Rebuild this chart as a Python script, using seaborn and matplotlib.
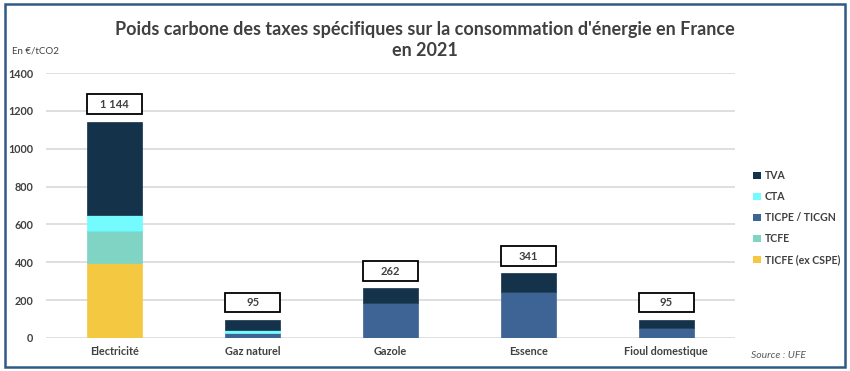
import numpy as np
import pandas as pd
import matplotlib.pyplot as plt
import seaborn as sns
from matplotlib.patches import Rectangle, Patch

categories = ["Electricité", "Gaz naturel", "Gazole", "Essence", "Fioul domestique"]
ticfe = [395, 0, 0, 0, 0]
tcfe = [170, 0, 0, 0, 0]
ticpe = [0, 28, 184, 245, 51]
cta = [84, 12, 0, 0, 0]
tva = [495, 55, 78, 96, 44]
totals = [1144, 95, 262, 341, 95]
total_labels = ["1 144", "95", "262", "341", "95"]

series = ["TICFE (ex CSPE)", "TCFE", "TICPE / TICGN", "CTA", "TVA"]
colors = {"TVA": "#14324a", "CTA": "#73fbfd", "TICPE / TICGN": "#3d6494",
          "TCFE": "#7fd4c4", "TICFE (ex CSPE)": "#f5c842"}

df = pd.DataFrame({"cat": categories, "TICFE (ex CSPE)": ticfe, "TCFE": tcfe,
                   "TICPE / TICGN": ticpe, "CTA": cta, "TVA": tva})
long = df.melt(id_vars="cat", var_name="taxe", value_name="val")

sns.set_theme(style="white")
plt.rcParams["font.family"] = ["Lato", "DejaVu Sans"]
txt = "#404040"

fig = plt.figure(figsize=(8.5, 3.71), dpi=100)
ax = fig.add_axes([0.054, 0.089, 0.811, 0.714])

bottom = np.zeros(len(categories))
for s in series:
    vals = long[long.taxe == s].set_index("cat").loc[categories, "val"].values
    ax.bar(categories, vals, bottom=bottom, width=0.4, color=colors[s],
           edgecolor=colors[s], linewidth=0.5, zorder=3)
    bottom += vals

# total label boxes
for i, (t, lab) in enumerate(zip(totals, total_labels)):
    y0 = t + 40
    ax.add_patch(Rectangle((i - 0.2, y0), 0.4, 105, facecolor="white",
                           edgecolor="black", linewidth=1.3, zorder=4))
    ax.text(i, y0 + 52, lab, ha="center", va="center", fontsize=8,
            fontweight="bold", color=txt, zorder=5)

ax.set_ylim(0, 1400)
ax.set_xlim(-0.5, 4.5)
ax.set_yticks(range(0, 1401, 200))
ax.yaxis.grid(True, color="#d9d9d9", linewidth=1.2, zorder=0)
ax.xaxis.grid(False)
for sp in ax.spines.values():
    sp.set_visible(False)
ax.tick_params(axis="both", length=0, labelsize=7.8, colors=txt)
ax.tick_params(axis="y", pad=9)
ax.tick_params(axis="x", pad=6)
for l in ax.get_xticklabels() + ax.get_yticklabels():
    l.set_fontweight("bold")

handles = [Patch(facecolor=colors[s], edgecolor="none") for s in series[::-1]]
leg = fig.legend(handles, series[::-1], loc="upper left", bbox_to_anchor=(0.875, 0.567),
                 frameon=False, fontsize=7.6, handlelength=0.7, handleheight=0.7,
                 handletextpad=0.4, labelspacing=0.95)
for t in leg.get_texts():
    t.set_fontweight("bold")
    t.set_color(txt)

fig.text(0.5, 0.893, "Poids carbone des taxes spécifiques sur la consommation d'énergie en France\nen 2021",
         ha="center", va="center", fontsize=13, fontweight="bold", color=txt, linespacing=1.3)
fig.text(0.014, 0.862, "En €/tCO2", fontsize=7, color=txt, va="center")
fig.text(0.884, 0.043, "Source : UFE", fontsize=7.5, style="italic", color="#595959", va="center")

fig.add_artist(Rectangle((0.006, 0.012), 0.988, 0.976, transform=fig.transFigure,
                         fill=False, edgecolor="#2e5a85", linewidth=1.8))

fig.savefig("out.png", dpi=100)
